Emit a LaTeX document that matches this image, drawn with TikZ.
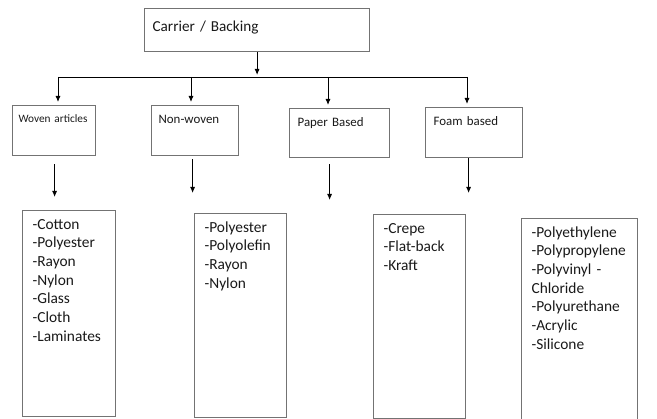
\documentclass[tikz,border=0pt]{standalone}
\usepackage{fontspec}
\setmainfont{Carlito}
\usetikzlibrary{arrows.meta}

\tikzset{
  box/.style={draw=black!55, line width=1.2pt, anchor=north west, align=left, inner ysep=0pt, text=black!90},
  headbox/.style={box, font=\fontsize{12.9}{15.5}\selectfont, inner xsep=7pt, text height=18pt},
  listbox/.style={box, font=\fontsize{15.4}{18.7}\selectfont, inner xsep=10pt, text height=18.6pt},
  arr/.style={-{Latex[length=6pt,width=5pt]}, line width=0.9pt}
}

\begin{document}
\begin{tikzpicture}[x=1pt, y=-1pt]
  \useasboundingbox (0,0) rectangle (657,419);

  % top box
  \node[box, font=\fontsize{15.2}{19}\selectfont, inner xsep=8pt, text width=209pt, text height=22.5pt, text depth=20.5pt] (carrier) at (144,8) {Carrier / Backing};

  % second row
  \node[headbox, font=\fontsize{11.3}{14}\selectfont, inner xsep=6pt, text width=71pt, text height=16.6pt, text depth=33.4pt] (woven) at (12,105) {Woven articles};
  \node[headbox, text width=73pt, text depth=32pt] (nonwoven) at (151,105) {Non-woven};
  \node[headbox, inner xsep=8pt, text width=84pt, text depth=31pt] (paper) at (289,108) {Paper Based};
  \node[headbox, inner xsep=8pt, text width=81pt, text depth=32pt] (foam) at (425,107) {Foam based};

  % lists
  \node[listbox, text width=73pt, text depth=187.4pt] (wovenlist) at (22,210) {-Cotton\\-Polyester\\-Rayon\\-Nylon\\-Glass\\-Cloth\\-Laminates};
  \node[listbox, text width=72pt, text depth=185.4pt] (nonwovenlist) at (194,213) {-Polyester\\-Polyolefin\\-Rayon\\-Nylon};
  \node[listbox, text width=72pt, text depth=185.4pt] (paperlist) at (373,214) {-Crepe\\-Flat-back\\-Kraft};
  \node[listbox, text width=96pt, text depth=186.4pt] (foamlist) at (521,218) {-Polyethylene\\-Polypropylene\\-Polyvinyl -\\Chloride\\-Polyurethane\\-Acrylic\\-Silicone};

  % bus line
  \coordinate (b1) at (58,77);
  \coordinate (b2) at (191,77);
  \coordinate (b3) at (328,77);
  \coordinate (b4) at (467,77);
  \draw[line width=0.9pt] (b1) -- (b4);
  \draw[arr, shorten >=2pt] (carrier.south) -- (carrier.south |- b1);
  \foreach \b/\n in {b1/woven, b2/nonwoven, b3/paper, b4/foam}
    \draw[arr, shorten >=3pt] (\b) -- (\b |- \n.north);

  % down to the lists
  \draw[arr, shorten <=8pt, shorten >=13pt] ([xshift=0.5pt]woven.south) -- ([xshift=0.5pt]woven.south |- wovenlist.north);
  \draw[arr, shorten <=3pt, shorten >=20pt] ([xshift=-2.5pt]nonwoven.south) -- ([xshift=-2.5pt]nonwoven.south |- nonwovenlist.north);
  \draw[arr] ([xshift=-10pt, yshift=-6pt]paper.south) -- ([xshift=-10pt, yshift=14pt]paper.south |- paperlist.north);
  \draw[arr, shorten <=0pt, shorten >=25pt] ([xshift=-5.5pt]foam.south) -- ([xshift=-5.5pt]foam.south |- foamlist.north);
\end{tikzpicture}
\end{document}
